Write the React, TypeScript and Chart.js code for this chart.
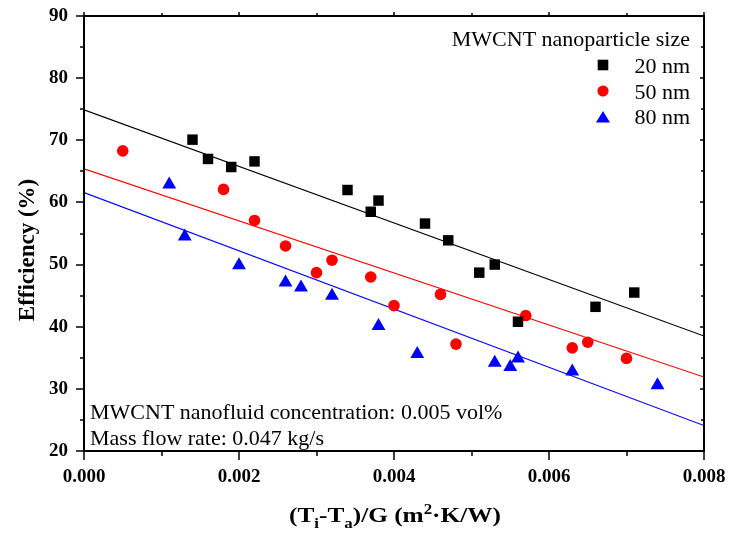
import React, { useEffect, useRef } from 'react';
import { Chart, registerables } from 'chart.js';

Chart.register(...registerables);

const FONT = "'Liberation Serif', 'Times New Roman', serif";

// ---- data ----
const x20 = [0.0014, 0.0016, 0.0019, 0.0022, 0.0034, 0.0037, 0.0038, 0.0044, 0.0047, 0.0051, 0.0053, 0.0056, 0.0066, 0.0071];
const y20 = [70.1, 67.0, 65.7, 66.6, 62.0, 58.5, 60.3, 56.6, 53.9, 48.7, 50.0, 40.8, 43.2, 45.5];

const x50 = [0.0005, 0.0018, 0.0022, 0.0026, 0.0030, 0.0032, 0.0037, 0.0040, 0.0046, 0.0048, 0.0057, 0.0063, 0.0065, 0.0070];
const y50 = [68.3, 62.1, 57.1, 53.0, 48.7, 50.7, 48.0, 43.4, 45.2, 37.2, 41.8, 36.6, 37.5, 34.9];

const x80 = [0.0011, 0.0013, 0.0020, 0.0026, 0.0028, 0.0032, 0.0038, 0.0043, 0.0053, 0.0055, 0.0056, 0.0063, 0.0074];
const y80 = [62.9, 54.5, 49.9, 47.1, 46.3, 45.0, 40.1, 35.6, 34.2, 33.5, 34.9, 32.8, 30.6];

const fitX = [0, 0.008];
const fit20 = [74.9, 38.5];
const fit50 = [65.4, 31.9];
const fit80 = [61.6, 24.1];

const seriesLabels = ['20 nm', '50 nm', '80 nm'];
const seriesColors = ['#000000', '#ff0000', '#0000ff'];
const legendTitle = 'MWCNT nanoparticle size';
const notes = ['MWCNT nanofluid concentration: 0.005 vol%', 'Mass flow rate: 0.047 kg/s'];

const xMajor = [0, 0.002, 0.004, 0.006, 0.008];
const xMinor = [0.001, 0.003, 0.005, 0.007];
const yMajor = [20, 30, 40, 50, 60, 70, 80, 90];
const yMinor = [25, 35, 45, 55, 65, 75, 85];

const yTitle = 'Efficiency (%)';

const pts = (xs: number[], ys: number[]) => xs.map((x, i) => ({ x, y: ys[i] }));

function drawMarker(ctx: CanvasRenderingContext2D, kind: number, x: number, y: number, color: string) {
  ctx.fillStyle = color;
  ctx.beginPath();
  if (kind === 0) {
    ctx.rect(x - 5.3, y - 5.3, 10.6, 10.6);
  } else if (kind === 1) {
    ctx.arc(x, y, 5.6, 0, Math.PI * 2);
  } else {
    ctx.moveTo(x, y - 6);
    ctx.lineTo(x + 7, y + 5.5);
    ctx.lineTo(x - 7, y + 5.5);
    ctx.closePath();
  }
  ctx.fill();
}

const zeroPad = (s: any) => {
  s.paddingTop = 0;
  s.paddingBottom = 0;
  s.paddingLeft = 0;
  s.paddingRight = 0;
};

const decor = {
  id: 'decor',
  afterDraw(chart: any) {
    const { ctx, chartArea: a, scales } = chart;
    const xs = scales.x;
    const ys = scales.y;
    ctx.save();
    ctx.strokeStyle = '#000';
    ctx.lineWidth = 1.5;
    ctx.beginPath();
    xMajor.forEach((v) => {
      const px = Math.round(xs.getPixelForValue(v));
      ctx.moveTo(px, a.bottom); ctx.lineTo(px, a.bottom + 9);
      ctx.moveTo(px, a.top); ctx.lineTo(px, a.top - 4);
    });
    xMinor.forEach((v) => {
      const px = Math.round(xs.getPixelForValue(v));
      ctx.moveTo(px, a.bottom); ctx.lineTo(px, a.bottom + 5);
      ctx.moveTo(px, a.top); ctx.lineTo(px, a.top - 3);
    });
    yMajor.forEach((v) => {
      const py = Math.round(ys.getPixelForValue(v));
      ctx.moveTo(a.left, py); ctx.lineTo(a.left - 8, py);
      ctx.moveTo(a.right, py); ctx.lineTo(a.right - 4, py);
    });
    yMinor.forEach((v) => {
      const py = Math.round(ys.getPixelForValue(v));
      ctx.moveTo(a.left, py); ctx.lineTo(a.left - 4, py);
      ctx.moveTo(a.right, py); ctx.lineTo(a.right - 3, py);
    });
    ctx.stroke();
    ctx.lineWidth = 2;
    ctx.strokeRect(a.left, a.top, a.right - a.left, a.bottom - a.top);

    // legend
    ctx.fillStyle = '#000';
    ctx.font = `22px ${FONT}`;
    ctx.textAlign = 'right';
    ctx.textBaseline = 'alphabetic';
    ctx.fillText(legendTitle, 690, 46);
    const baselines = [73, 99, 124];
    const markerY = [65, 91, 117];
    seriesLabels.forEach((lab, i) => {
      drawMarker(ctx, i, 603, markerY[i], seriesColors[i]);
      ctx.fillStyle = '#000';
      ctx.textAlign = 'right';
      ctx.fillText(lab, 690, baselines[i]);
    });

    // notes
    ctx.textAlign = 'left';
    ctx.fillText(notes[0], 90, 419);
    ctx.fillText(notes[1], 90, 445);

    // y title
    ctx.save();
    ctx.translate(28, 250);
    ctx.rotate(-Math.PI / 2);
    ctx.font = `bold 23px ${FONT}`;
    ctx.textAlign = 'center';
    ctx.textBaseline = 'middle';
    ctx.fillText(yTitle, 0, 0);
    ctx.restore();

    // x title with sub/superscripts (slightly wide lettering)
    const parts: [string, string][] = [
      ['(T', 'n'], ['i', 'sub'], ['-T', 'n'], ['a', 'sub'], [')/G (m', 'n'], ['2', 'sup'], ['\u00b7K/W)', 'n'],
    ];
    const big = `bold 21px ${FONT}`;
    const small = `bold 14px ${FONT}`;
    let total = 0;
    parts.forEach(([t, k]) => {
      ctx.font = k === 'n' ? big : small;
      total += ctx.measureText(t).width;
    });
    const targetW = 212;
    const sx = targetW / total;
    ctx.save();
    ctx.translate(395 - targetW / 2, 522);
    ctx.scale(sx, 1);
    let cx = 0;
    ctx.textAlign = 'left';
    ctx.textBaseline = 'alphabetic';
    parts.forEach(([t, k]) => {
      ctx.font = k === 'n' ? big : small;
      const dy = k === 'sub' ? 6 : k === 'sup' ? -8 : 0;
      ctx.fillText(t, cx, dy);
      cx += ctx.measureText(t).width;
    });
    ctx.restore();
    ctx.restore();
  },
};

export default function App() {
  const ref = useRef<HTMLCanvasElement>(null);
  useEffect(() => {
    document.body.style.margin = '0';
    const chart = new Chart(ref.current!, {
      type: 'scatter',
      data: {
        datasets: [
          { label: seriesLabels[0], data: pts(x20, y20), pointStyle: 'rect', pointRadius: 7.4, backgroundColor: seriesColors[0], borderWidth: 0, order: 0 },
          { label: seriesLabels[1], data: pts(x50, y50), pointStyle: 'circle', pointRadius: 5.8, backgroundColor: seriesColors[1], borderWidth: 0, order: 0 },
          { label: seriesLabels[2], data: pts(x80, y80), pointStyle: 'triangle', pointRadius: 8, backgroundColor: seriesColors[2], borderWidth: 0, order: 0 },
          { label: 'fit20', data: pts(fitX, fit20), showLine: true, pointRadius: 0, borderColor: seriesColors[0], borderWidth: 1.2, order: 1 },
          { label: 'fit50', data: pts(fitX, fit50), showLine: true, pointRadius: 0, borderColor: seriesColors[1], borderWidth: 1.2, order: 1 },
          { label: 'fit80', data: pts(fitX, fit80), showLine: true, pointRadius: 0, borderColor: seriesColors[2], borderWidth: 1.2, order: 1 },
        ] as any,
      },
      options: {
        responsive: false,
        animation: false,
        layout: { padding: { top: 16, right: 25, left: 0, bottom: 0 } },
        plugins: { legend: { display: false }, tooltip: { enabled: false } },
        scales: {
          x: {
            type: 'linear',
            min: 0,
            max: 0.008,
            afterFit: (s: any) => { s.height = 85; zeroPad(s); },
            afterBuildTicks: (s: any) => { s.ticks = xMajor.map((v) => ({ value: v })); },
            grid: { display: false, drawTicks: false },
            border: { display: false },
            ticks: {
              padding: 15,
              color: '#000',
              maxRotation: 0,
              font: { family: FONT, size: 19, weight: 'bold' },
              callback: (v: any) => Number(v).toFixed(3),
            },
          },
          y: {
            type: 'linear',
            min: 20,
            max: 90,
            afterFit: (s: any) => { s.width = 84; zeroPad(s); },
            afterBuildTicks: (s: any) => { s.ticks = yMajor.map((v) => ({ value: v })); },
            grid: { display: false, drawTicks: false },
            border: { display: false },
            ticks: {
              padding: 16,
              color: '#000',
              font: { family: FONT, size: 19, weight: 'bold' },
              callback: (v: any) => String(v),
            },
          },
        },
      } as any,
      plugins: [decor],
    });
    return () => chart.destroy();
  }, []);
  return (
    <div style={{ position: 'absolute', left: 0, top: 0, width: 729, height: 536, background: '#fff' }}>
      <canvas ref={ref} width={729} height={536} />
    </div>
  );
}
